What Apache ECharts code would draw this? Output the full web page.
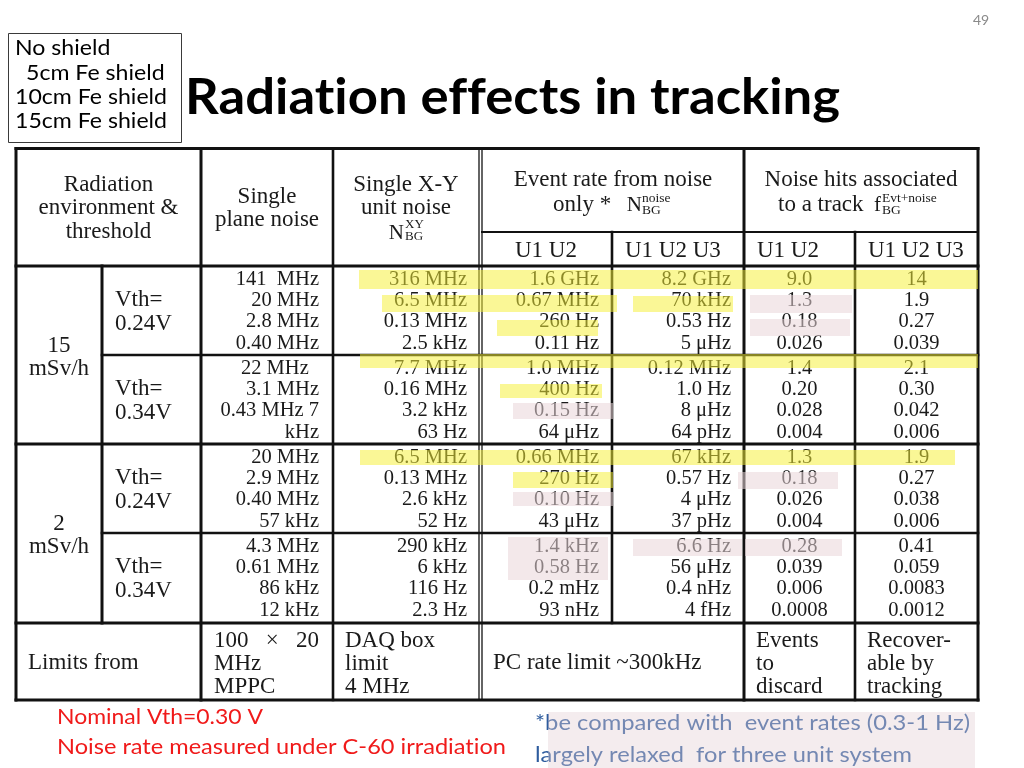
<!DOCTYPE html>
<html><head><meta charset="utf-8">
<script src="https://cdn.jsdelivr.net/npm/echarts@6/dist/echarts.min.js"></script>
<style>html,body{margin:0;padding:0;background:#fff}#c{width:1024px;height:768px}</style>
</head><body><div id="c"></div>
<script>
// ================= DATA =================
const slideTitle = 'Radiation effects in tracking';
const pageNumber = '49';
const shieldings = ['No shield', '5cm Fe shield', '10cm Fe shield', '15cm Fe shield'];
const radiationLevels = ['15\nmSv/h', '2\nmSv/h'];
const thresholds = ['Vth=\n0.24V', 'Vth=\n0.34V'];
const subHeaders = ['U1 U2', 'U1 U2 U3', 'U1 U2', 'U1 U2 U3'];
// one block per (radiation level, threshold); four rows = four shielding cases
const singlePlaneNoise = [
  ['141  MHz', '20 MHz', '2.8 MHz', '0.40 MHz'],
  ['22 MHz  ', '3.1 MHz', '0.43 MHz 7', 'kHz'],
  ['20 MHz', '2.9 MHz', '0.40 MHz', '57 kHz'],
  ['4.3 MHz', '0.61 MHz', '86 kHz', '12 kHz']
];
const xyUnitNoise = [
  ['316 MHz', '6.5 MHz', '0.13 MHz', '2.5 kHz'],
  ['7.7 MHz', '0.16 MHz', '3.2 kHz', '63 Hz'],
  ['6.5 MHz', '0.13 MHz', '2.6 kHz', '52 Hz'],
  ['290 kHz', '6 kHz', '116 Hz', '2.3 Hz']
];
const eventRateU12 = [
  ['1.6 GHz', '0.67 MHz', '260 Hz', '0.11 Hz'],
  ['1.0 MHz', '400 Hz', '0.15 Hz', '64 μHz'],
  ['0.66 MHz', '270 Hz', '0.10 Hz', '43 μHz'],
  ['1.4 kHz', '0.58 Hz', '0.2 mHz', '93 nHz']
];
const eventRateU123 = [
  ['8.2 GHz', '70 kHz', '0.53 Hz', '5 μHz'],
  ['0.12 MHz', '1.0 Hz', '8 μHz', '64 pHz'],
  ['67 kHz', '0.57 Hz', '4 μHz', '37 pHz'],
  ['6.6 Hz', '56 μHz', '0.4 nHz', '4 fHz']
];
const hitsU12 = [
  ['9.0', '1.3', '0.18', '0.026'],
  ['1.4', '0.20', '0.028', '0.004'],
  ['1.3', '0.18', '0.026', '0.004'],
  ['0.28', '0.039', '0.006', '0.0008']
];
const hitsU123 = [
  ['14', '1.9', '0.27', '0.039'],
  ['2.1', '0.30', '0.042', '0.006'],
  ['1.9', '0.27', '0.038', '0.006'],
  ['0.41', '0.059', '0.0083', '0.0012']
];
const limitsRow = ['Limits from', '100   ×   20\nMHz\nMPPC', 'DAQ box\nlimit\n4 MHz',
  'PC rate limit ~300kHz', 'Events\nto\ndiscard', 'Recover-\nable by\ntracking'];
const notesRed = ['Nominal Vth=0.30 V', 'Noise rate measured under C-60 irradiation'];
const notesBlue = ['*be compared with  event rates (0.3-1 Hz)', 'largely relaxed  for three unit system'];

// ================= LAYOUT / STYLE =================
const colEdges = [16, 102, 201, 333, 479, 482, 612, 744, 855, 978];
const rowEdges = [148.5, 232, 266, 355, 444, 533, 623, 700];
const vRules = [[0,0,7,3],[1,2,6,3],[2,0,7,3],[3,0,7,2.6],[4,0,7,1.3],[5,0,7,1.3],[6,1,6,2.6],[7,0,7,3],[8,1,7,2.6],[9,0,7,3]];
const hRules = [[0,0,9,3],[1,5,9,2],[2,0,9,3],[3,1,9,2.6],[4,0,9,3],[5,1,9,2.6],[6,0,9,3],[7,0,9,3]];
// highlight marks drawn over the scanned table: [x1, y1, x2, y2, kind] (0 yellow, 1 pink)
const highlights = [
  [359, 270, 978, 289, 0], [382, 295, 617, 312, 0], [633, 296, 733, 312, 0], [497, 320, 598, 336, 0],
  [360, 354, 978, 368, 0], [500, 384, 602, 398, 0], [360, 450, 955, 465, 0], [513, 472, 613, 488, 0],
  [750, 295, 852, 313, 1], [750, 319, 850, 336, 1], [513, 403, 613, 419, 1], [738, 472, 838, 489, 1],
  [513, 492, 613, 506, 1], [508, 537, 608, 580, 1], [633, 539, 742, 556, 1], [745, 539, 842, 556, 1]
];
const SERIF = '"Liberation Serif", "Times New Roman", serif';
const SANS = 'Lato, "Open Sans", sans-serif';
const INK = '#1a1a1a';
// break typographic ligatures (ti, ff, fi ...) so the text looks like the original
const noLig = s => s.split('').join('\u200C');

const cells = [];
function addCell(x, y, text, align, size, lh) {
  cells.push({x, y, text, align: align || 'center', size: size || 23, lh: lh || 23.5});
}
// header
addCell((colEdges[0]+colEdges[2])/2, 208, 'Radiation\nenvironment &\nthreshold');
addCell((colEdges[2]+colEdges[3])/2, 208.5, 'Single\nplane noise');
addCell((colEdges[3]+colEdges[4])/2, 196.5, 'Single X-Y\nunit noise');
addCell(404, 233.5, 'N', 'right', 21);
addCell(405, 231, 'XY\nBG', 'left', 13, 12);
addCell((colEdges[5]+colEdges[7])/2, 180, 'Event rate from noise');
addCell(553, 205, 'only *', 'left');
addCell(642, 205, 'N', 'right', 21);
addCell(642, 204, 'noise\nBG', 'left', 13.5, 12);
addCell((colEdges[7]+colEdges[9])/2, 180, 'Noise hits associated');
addCell(778, 205, 'to a track', 'left');
addCell(881, 205, 'f', 'right', 21);
addCell(882, 204, 'Evt+noise\nBG', 'left', 13.5, 12);
const subPad = [33, 13, 13, 13];
subHeaders.forEach((t, i) => addCell(colEdges[5+i] + subPad[i], 251, t, 'left'));
// row labels
radiationLevels.forEach((t, i) => addCell((colEdges[0]+colEdges[1])/2, (rowEdges[3+2*i-1]+rowEdges[3+2*i+1])/2 + 2, t, 'center', 23, 23));
thresholds.forEach((t, j) => {
  for (let i = 0; i < 2; i++) {
    const b = i*2 + j;
    addCell(colEdges[1] + 13, (rowEdges[2+b]+rowEdges[3+b])/2 + 1.2, t, 'left', 23, 24);
  }
});
// data columns
const dataCols = [
  {vals: singlePlaneNoise, x: colEdges[3] - 14, align: 'right'},
  {vals: xyUnitNoise, x: colEdges[4] - 12, align: 'right'},
  {vals: eventRateU12, x: colEdges[6] - 13, align: 'right'},
  {vals: eventRateU123, x: colEdges[7] - 13, align: 'right'},
  {vals: hitsU12, x: (colEdges[7]+colEdges[8])/2, align: 'center'},
  {vals: hitsU123, x: (colEdges[8]+colEdges[9])/2, align: 'center'}
];
dataCols.forEach(col => col.vals.forEach((block, b) => block.forEach((v, i) => {
  addCell(col.x, rowEdges[2+b] + 13.5 + 21.3*i, v, col.align, 20.5);
})));
// limits row
const limY = (rowEdges[6]+rowEdges[7])/2;
addCell(colEdges[0] + 12, limY + 1.5, limitsRow[0], 'left');
addCell(colEdges[2] + 13, limY + 2.5, limitsRow[1], 'left', 23, 23);
addCell(colEdges[3] + 12, limY + 2.5, limitsRow[2], 'left', 23, 23);
addCell(colEdges[5] + 11, limY + 1.5, limitsRow[3], 'left');
addCell(colEdges[7] + 12, limY + 2.5, limitsRow[4], 'left', 23, 23);
addCell(colEdges[8] + 12, limY + 2.5, limitsRow[5], 'left', 23, 23);

const rules = [];
vRules.forEach(r => rules.push([colEdges[r[0]], rowEdges[r[1]], colEdges[r[0]], rowEdges[r[2]], r[3]]));
hRules.forEach(r => rules.push([colEdges[r[1]], rowEdges[r[0]], colEdges[r[2]], rowEdges[r[0]], r[3]]));

// text measuring for slide (Calibri-like) texts
const mctx = document.createElement('canvas').getContext('2d');
function tw(text, font) { mctx.font = font; return mctx.measureText(text).width; }
function fitText(text, x, y, size, weight, targetW, fill) {
  const font = weight + ' ' + size + 'px ' + SANS;
  const t = noLig(text);
  const s = targetW / tw(t, font);
  return {type: 'text', x, y, scaleX: s, z: 10,
    style: {text: t, fill, fontSize: size, fontWeight: weight, fontFamily: SANS, align: 'left', verticalAlign: 'middle'}};
}

const shieldScale = 152 / tw(noLig('10cm Fe shield'), 'normal 21px ' + SANS);
const graphics = [
  {type: 'rect', shape: {x: 8.5, y: 33.5, width: 173, height: 109}, style: {fill: 'none', stroke: '#3a3a3a', lineWidth: 1}, z: 10},
  fitText(slideTitle, 185, 98, 50, 'bold', 655, '#000'),
  {type: 'text', x: 981, y: 20, z: 10, style: {text: pageNumber, fill: '#8a8a8a', fontSize: 14, fontFamily: SANS, align: 'center', verticalAlign: 'middle'}},
  fitText(notesRed[0], 57, 717, 20.5, 'normal', 206, '#f01a1a'),
  fitText(notesRed[1], 57, 747, 20.5, 'normal', 449, '#f01a1a'),
  fitText(notesBlue[0], 535, 723, 20.5, 'normal', 435, '#2e5c9e'),
  fitText(notesBlue[1], 535, 755, 20.5, 'normal', 377, '#2e5c9e'),
  {type: 'rect', shape: {x: 548, y: 712, width: 427, height: 56}, style: {fill: 'rgba(227,206,211,0.39)'}, z: 11}
];
const shieldX = [15, 26, 15, 15];
shieldings.forEach((t, i) => {
  graphics.push({type: 'text', x: shieldX[i], y: 48.5 + 24.3*i, scaleX: shieldScale, z: 10,
    style: {text: noLig(t), fill: '#000', fontSize: 21, fontFamily: SANS, align: 'left', verticalAlign: 'middle'}});
});

const chart = echarts.init(document.getElementById('c'), null, {renderer: 'canvas'});
chart.setOption({
  animation: false,
  backgroundColor: '#fff',
  grid: {left: 16, top: 148, width: 962, height: 552, outerBoundsMode: 'none', containLabel: false},
  xAxis: {type: 'value', min: 16, max: 978, show: false},
  yAxis: {type: 'value', min: 148, max: 700, inverse: true, show: false},
  graphic: graphics,
  series: [
    {
      type: 'custom', name: 'rules', z: 3, clip: false, silent: true,
      data: rules.map(r => r.slice()),
      renderItem: (params, api) => {
        const p1 = api.coord([api.value(0), api.value(1)]);
        const p2 = api.coord([api.value(2), api.value(3)]);
        return {type: 'line', shape: {x1: p1[0], y1: p1[1], x2: p2[0], y2: p2[1]},
          style: {stroke: '#111', lineWidth: api.value(4), lineCap: 'square'}};
      }
    },
    {
      type: 'custom', name: 'cells', z: 2, clip: false, silent: true,
      data: cells.map(c => [c.x, c.y]),
      renderItem: (params, api) => {
        const c = cells[params.dataIndex];
        const p = api.coord([api.value(0), api.value(1)]);
        return {type: 'text', x: p[0], y: p[1],
          style: {text: c.text, fill: INK, fontSize: c.size, fontFamily: SERIF, align: c.align,
            verticalAlign: 'middle', lineHeight: c.lh}};
      }
    },
    {
      type: 'custom', name: 'highlights', z: 5, clip: false, silent: true,
      data: highlights.map(h => h.slice()),
      renderItem: (params, api) => {
        const p1 = api.coord([api.value(0), api.value(1)]);
        const p2 = api.coord([api.value(2), api.value(3)]);
        return {type: 'rect', shape: {x: p1[0], y: p1[1], width: p2[0]-p1[0], height: p2[1]-p1[1]},
          style: {fill: api.value(4) === 0 ? 'rgba(246,240,54,0.52)' : 'rgba(233,213,217,0.55)'}};
      }
    }
  ]
});
</script></body></html>
